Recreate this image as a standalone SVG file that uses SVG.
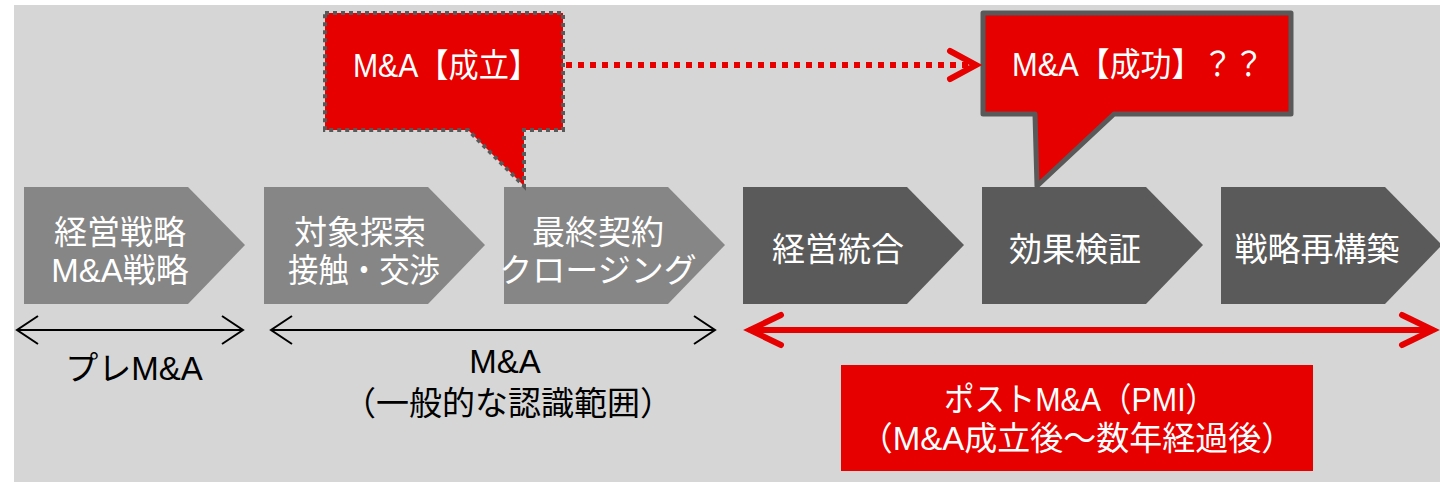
<svg xmlns="http://www.w3.org/2000/svg" width="1440" height="484" viewBox="0 0 1440 484">
<defs>
<style>
.t{font-family:"Liberation Sans","Noto Sans CJK JP",sans-serif;font-size:33px;text-anchor:middle}
.w{fill:#ffffff}
.k{fill:#000000}
.lg{fill:#868686}
.dg{fill:#5a5a5a}
</style>
</defs>
<rect x="14" y="5" width="1426" height="477" fill="#d6d6d6"/>
<g id="node1"><path class="lg" d="M24,187 H188 L245,245 L188,304 H24 Z"/><text class="t w" x="120" y="244">経営戦略</text><text class="t w" x="120" y="282">M&amp;A戦略</text></g>
<g id="node2"><path class="lg" d="M264,187 H428 L485,245 L428,304 H264 Z"/><text class="t w" x="360" y="244">対象探索</text><text class="t w" x="364" y="282" textLength="152" lengthAdjust="spacingAndGlyphs">接触・交渉</text></g>
<g id="node3"><path class="lg" d="M504,187 H668 L725,245 L668,304 H504 Z"/><text class="t w" x="598" y="244">最終契約</text><text class="t w" x="598" y="282">クロージング</text></g>
<g id="node4"><path class="dg" d="M743,187 H907 L964,245 L907,304 H743 Z"/><text class="t w" x="838" y="261">経営統合</text></g>
<g id="node5"><path class="dg" d="M982,187 H1146 L1203,245 L1146,304 H982 Z"/><text class="t w" x="1075" y="261">効果検証</text></g>
<g id="node6"><path class="dg" d="M1221,187 H1385 L1442,245 L1385,304 H1221 Z"/><text class="t w" x="1317" y="261">戦略再構築</text></g>
<g id="callout1"><path d="M325,13 H563 V130 H524 V186 L468,130 H325 Z" fill="#e60000" stroke="#595959" stroke-width="4" stroke-dasharray="4,4"/><text class="t w" x="446" y="77" textLength="186" lengthAdjust="spacingAndGlyphs">M&amp;A【成立】</text></g>
<g id="callout2"><path d="M983,13 H1291 V114 H1114 L1037,186 L1035,114 H983 Z" fill="#e60000" stroke="#595959" stroke-width="5" stroke-linejoin="round"/><text class="t w" x="1012" y="76" style="text-anchor:start" textLength="252" lengthAdjust="spacingAndGlyphs">M&amp;A【成功】？？</text></g>
<g id="connectors" fill="none">
<path d="M566,65 H972" stroke="#e60000" stroke-width="6" stroke-dasharray="6,6"/>
<path d="M950,51 L976,65 L950,79" stroke="#e60000" stroke-width="6" stroke-linecap="round" stroke-linejoin="miter"/>
<path d="M17,330 H243 M38,316 L17,330 L38,344 M222,316 L243,330 L222,344" stroke="#000" stroke-width="2"/>
<path d="M271,330 H715 M292,316 L271,330 L292,344 M694,316 L715,330 L694,344" stroke="#000" stroke-width="2"/>
<path d="M750,330 H1433 M781,315 L750,330 L781,345 M1402,315 L1433,330 L1402,345" stroke="#e60000" stroke-width="6" stroke-linecap="round"/>
</g>
<g id="label-pre"><text class="t k" x="134" y="380">プレM&amp;A</text></g>
<g id="label-ma"><text class="t k" x="505" y="373">M&amp;A</text><text class="t k" x="508" y="415">（一般的な認識範囲）</text></g>
<g id="label-post"><rect x="841" y="365" width="472" height="106" fill="#e60000"/><text class="t w" x="1080" y="411" textLength="272" lengthAdjust="spacingAndGlyphs">ポストM&amp;A（PMI）</text><text class="t w" x="1077" y="450">（M&amp;A成立後～数年経過後）</text></g>
</svg>
